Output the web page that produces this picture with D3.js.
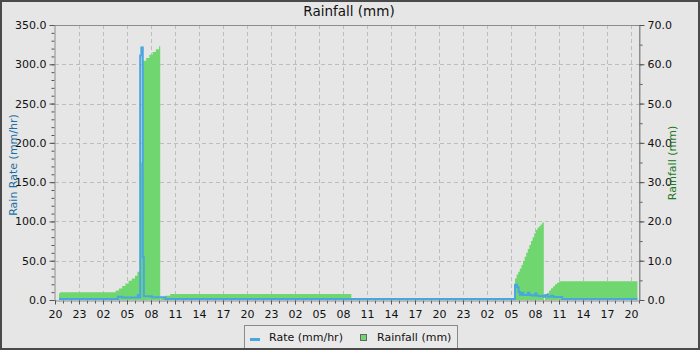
<!DOCTYPE html>
<html>
<head>
<meta charset="utf-8">
<script src="https://cdn.jsdelivr.net/npm/d3@7"></script>
<style>
  body { margin: 0; background: #e6e6e6; }
  svg { display: block; font-family: "DejaVu Sans", sans-serif; }
</style>
</head>
<body>
<svg id="chart" width="700" height="350"></svg>
<script>
(function () {
    'use strict';

    // hours since the first tick (20:00)
    var rateHours  = [0.5, 7.85, 8.4, 10.35, 10.5, 10.65, 10.8, 10.97, 11.1, 12.1, 13.8,
                      57.5, 57.75, 57.95, 58.1, 58.35, 58.55, 58.9, 59.1, 59.3, 59.6, 60.0, 60.2,
                      60.5, 60.9, 61.1, 61.3, 61.6, 62.0, 62.3, 63.4, 72.8];
    var rateValues = [0, 3, 2, 5, 2, 310, 320, 53, 3.5, 2.2, 0,
                      18, 15, 9, 5.5, 8, 5, 5, 8, 5, 4.5, 7, 4,
                      3.5, 4, 3, 5, 3, 4, 2.5, 0, 0];

    var rainHours  = [0.5, 0.65, 7.6, 8.0, 8.4, 8.8, 9.2, 9.6, 10.0, 10.3, 10.65,
                      11.0, 11.4, 11.8, 12.2, 12.6, 13.0, 13.15,
                      13.2, 13.75, 14.4, 37.05,
                      57.5, 57.7, 57.9, 58.1, 58.3, 58.5, 58.7, 58.9, 59.1, 59.3, 59.5, 59.7,
                      59.9, 60.1, 60.3, 60.5, 60.7, 60.9, 61.1,
                      61.25, 61.5, 61.75, 62.0, 62.25, 62.5, 62.75, 63.0, 63.2, 72.8];
    var rainValues = [1.7, 2.0, 2.45, 2.95, 3.55, 4.2, 4.9, 5.5, 6.2, 7.2, 35,
                      60.9, 61.6, 62.4, 63.1, 63.8, 64.6, 0,
                      0.7, 1.1, 1.5, 0,
                      5.5, 6.5, 7.2, 8.0, 8.9, 9.9, 11.0, 12.0, 13.0, 14.0, 15.0, 16.0,
                      17.0, 17.8, 18.4, 18.8, 19.2, 19.7, 0,
                      1.3, 1.8, 2.4, 3.0, 3.5, 4.0, 4.4, 4.7, 4.8, 0];

    var rateTicks = [0, 50, 100, 150, 200, 250, 300, 350];
    var rainTicks = [0, 10, 20, 30, 40, 50, 60, 70];
    var hourTicks = d3.range(0, 73, 3);

    var HOUR = 3600e3,
        t0 = Date.UTC(2024, 0, 1, 20, 0),
        plot = { left: 55, right: 639, top: 25, bottom: 300 },
        rateColor = "#4aa6de",
        rainColor = "#70d670",
        gridColor = "#bdbdbd",
        axisColor = "#8c8c8c";

    function toDate(h) { return new Date(t0 + h * HOUR); }

    var svg = d3.select("#chart");

    var x = d3.scaleUtc()
        .domain([toDate(0), toDate(73)])
        .range([plot.left, plot.right]);
    var yRate = d3.scaleLinear().domain([0, 350]).range([plot.bottom, plot.top]);
    var yRain = d3.scaleLinear().domain([0, 70]).range([plot.bottom, plot.top]);

    // background
    svg.append("rect")
        .attr("x", 0).attr("y", 0).attr("width", 700).attr("height", 350)
        .attr("fill", "#e6e6e6");

    // grid
    var grid = svg.append("g").attr("stroke", gridColor).attr("stroke-dasharray", "4,3");
    grid.selectAll(".gx")
        .data(hourTicks.slice(1))
        .enter().append("line")
        .attr("x1", function (d) { return Math.round(x(toDate(d))) + 0.5; })
        .attr("x2", function (d) { return Math.round(x(toDate(d))) + 0.5; })
        .attr("y1", plot.top).attr("y2", plot.bottom);
    grid.selectAll(".gy")
        .data(rateTicks.slice(1, -1))
        .enter().append("line")
        .attr("x1", plot.left).attr("x2", plot.right)
        .attr("y1", function (d) { return Math.round(yRate(d)) + 0.5; })
        .attr("y2", function (d) { return Math.round(yRate(d)) + 0.5; });

    // rainfall area
    var rainData = rainHours.map(function (h, i) { return { t: toDate(h), v: rainValues[i] }; });
    var area = d3.area()
        .curve(d3.curveStepAfter)
        .x(function (d) { return x(d.t); })
        .y0(yRain(0))
        .y1(function (d) { return yRain(d.v); });
    svg.append("path")
        .datum(rainData)
        .attr("fill", rainColor)
        .attr("d", area);

    // rate line
    var rateData = rateHours.map(function (h, i) { return { t: toDate(h), v: rateValues[i] }; });
    var line = d3.line()
        .curve(d3.curveStepAfter)
        .x(function (d) { return x(d.t); })
        .y(function (d) { return yRate(d.v) - 1; });
    svg.append("path")
        .datum(rateData)
        .attr("fill", "none")
        .attr("stroke", rateColor)
        .attr("stroke-width", 2)
        .attr("d", line);

    // plot border (top + right)
    svg.append("path")
        .attr("d", "M" + plot.left + "," + (plot.top + 0.5) + "H" + (plot.right + 0.5) + "V" + plot.bottom)
        .attr("fill", "none").attr("stroke", axisColor);

    function styleAxis(g) {
        g.selectAll(".domain").attr("stroke", axisColor);
        g.selectAll(".tick line").attr("stroke", "#555");
        g.selectAll(".tick text").attr("fill", "#111").attr("font-size", "11px")
            .attr("font-family", "DejaVu Sans, sans-serif");
    }

    // left axis
    var gLeftMinor = svg.append("g").attr("transform", "translate(" + (plot.left - 0.5) + ",0)")
        .call(d3.axisLeft(yRate).tickValues(d3.range(0, 351, 10)).tickSize(3).tickFormat("").tickSizeOuter(0));
    gLeftMinor.select(".domain").remove();
    gLeftMinor.selectAll(".tick line").attr("stroke", "#555");
    var gLeft = svg.append("g").attr("transform", "translate(" + (plot.left - 0.5) + ",0)")
        .call(d3.axisLeft(yRate).tickValues(rateTicks).tickFormat(d3.format(".1f")).tickSize(5).tickSizeOuter(0).tickPadding(3));
    styleAxis(gLeft);

    // right axis
    var gRightMinor = svg.append("g").attr("transform", "translate(" + (plot.right + 0.5) + ",0)")
        .call(d3.axisRight(yRain).tickValues(d3.range(0, 71, 5)).tickSize(3).tickFormat("").tickSizeOuter(0));
    gRightMinor.select(".domain").remove();
    gRightMinor.selectAll(".tick line").attr("stroke", "#555");
    var gRight = svg.append("g").attr("transform", "translate(" + (plot.right + 0.5) + ",0)")
        .call(d3.axisRight(yRain).tickValues(rainTicks).tickFormat(d3.format(".1f")).tickSize(5).tickSizeOuter(0).tickPadding(3));
    styleAxis(gRight);

    // bottom axis
    var gBottomMinor = svg.append("g").attr("transform", "translate(0," + (plot.bottom + 0.5) + ")")
        .call(d3.axisBottom(x).tickValues(d3.range(0, 74, 1).map(toDate)).tickSize(3).tickFormat("").tickSizeOuter(0));
    gBottomMinor.select(".domain").remove();
    gBottomMinor.selectAll(".tick line").attr("stroke", "#555");
    var gBottom = svg.append("g").attr("transform", "translate(0," + (plot.bottom + 0.5) + ")")
        .call(d3.axisBottom(x).tickValues(hourTicks.map(toDate)).tickFormat(d3.utcFormat("%H")).tickSize(4).tickSizeOuter(0).tickPadding(6));
    styleAxis(gBottom);

    // title + axis labels
    svg.append("text")
        .attr("x", 349).attr("y", 16)
        .attr("text-anchor", "middle")
        .attr("font-size", "13.5px")
        .attr("fill", "#111")
        .text("Rainfall (mm)");

    svg.append("text")
        .attr("transform", "translate(17,165) rotate(-90)")
        .attr("text-anchor", "middle")
        .attr("font-size", "11px")
        .attr("fill", "#1b6fa8")
        .text("Rain Rate (mm/hr)");

    svg.append("text")
        .attr("transform", "translate(676,163) rotate(-90)")
        .attr("text-anchor", "middle")
        .attr("font-size", "11px")
        .attr("fill", "#1d7a1d")
        .text("Rainfall (mm)");

    // legend
    var legend = svg.append("g");
    legend.append("rect")
        .attr("x", 244.5).attr("y", 325.5).attr("width", 213).attr("height", 24)
        .attr("fill", "#e9e9e9").attr("stroke", "#8a8a8a");
    legend.append("line")
        .attr("x1", 250).attr("x2", 260).attr("y1", 339.5).attr("y2", 339.5)
        .attr("stroke", rateColor).attr("stroke-width", 3);
    legend.append("text")
        .attr("x", 269).attr("y", 341)
        .attr("font-size", "11px").attr("fill", "#111")
        .text("Rate (mm/hr)");
    legend.append("rect")
        .attr("x", 360.5).attr("y", 334.5).attr("width", 6).attr("height", 6)
        .attr("fill", rainColor).attr("stroke", "#666");
    legend.append("text")
        .attr("x", 377).attr("y", 341)
        .attr("font-size", "11px").attr("fill", "#111")
        .text("Rainfall (mm)");

    // outer frame, drawn last so it sits over the legend edge
    svg.append("rect")
        .attr("x", 1).attr("y", 1).attr("width", 698).attr("height", 348)
        .attr("fill", "none").attr("stroke", "#4a4a4a").attr("stroke-width", 2);
})();
</script>
</body>
</html>
